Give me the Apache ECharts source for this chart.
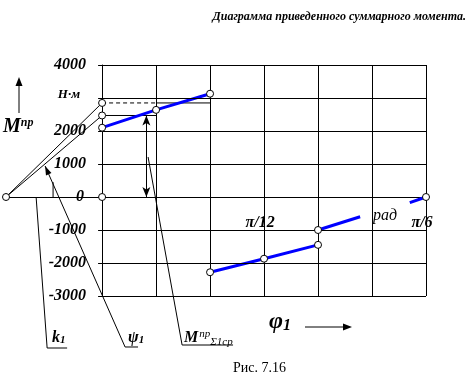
<!DOCTYPE html>
<html><head><meta charset="utf-8">
<script src="https://cdn.jsdelivr.net/npm/echarts@6.0.0/dist/echarts.min.js"></script>
<style>html,body{margin:0;padding:0;background:#fff;}#chart{width:473px;height:378px;}</style>
</head><body><div id="chart"></div>
<script>
// φ1 measured in degrees (5° = π/36 per grid cell), M in N·m
const xGridTicks = [0, 5, 10, 15, 20, 25, 30];
const xTickLabelValues = [15, 30];
const xTickLabelTexts = ['π/12', 'π/6'];
const yTicks = [-3000, -2000, -1000, 0, 1000, 2000, 3000, 4000];
const yTickLabels = ['-3000', '-2000', '-1000', '0', '1000', '2000', 'Н·м', '4000'];

const segment1 = [[0, 2100], [5, 2640], [10, 3130]];
const segment2 = [[10, -2280], [15, -1870], [20, -1450]];
const segment3a = [[20, -1000], [23.9, -600]];
const segment3b = [[28.5, -170], [30, 0]];
const knotPoints = [[0, 2100], [5, 2640], [10, 3130], [10, -2280], [15, -1870], [20, -1450], [20, -1000], [30, 0], [0, 0]];

const pivot = [-8.9, 0];
const levelUpper = 2850;
const levelLower = 2470;
const constructionPoints = [[-8.9, 0], [0, 2850], [0, 2470]];
const meanArrowX = 4.1;
const angleMark = [[-4.54, 0], [-4.54, 450]];

const leaderK = [[-6.11, 0], [-5.09, -4576], [-3.24, -4576]];
const leaderPsi = [[-5.28, 940], [2.13, -4545], [3.33, -4545]];
const leaderM = [[4.26, 1212], [7.41, -4485], [12.13, -4485]];

const F = 'Liberation Serif';
const BI = { fontFamily: F, fontStyle: 'italic', fontWeight: 'bold', color: '#000' };

const GRID = { left: 6, right: 47, top: 65, bottom: 82 };
const xMax = 30;
const plotWidth = 473 - GRID.left - GRID.right;
const yAxisOffset = -(0 - pivot[0]) * plotWidth / (xMax - pivot[0]);

const chart = echarts.init(document.getElementById('chart'), null, { renderer: 'canvas' });

function thin(data, extra) {
  return Object.assign({ type: 'line', data: data, symbol: 'none', silent: true, clip: false,
    lineStyle: { color: '#000', width: 1 }, z: 3 }, extra || {});
}
function blue(data) {
  return { type: 'line', data: data, symbol: 'none', silent: true,
    lineStyle: { color: '#0000ff', width: 3 }, z: 4 };
}

const gridMarkData = [];
xGridTicks.forEach(v => { if (v !== 0) gridMarkData.push({ xAxis: v }); });
yTicks.forEach(v => { if (v !== 0) gridMarkData.push([{ coord: [0, v] }, { coord: [xMax, v] }]); });

const option = {
  animation: false,
  backgroundColor: '#fff',
  grid: Object.assign({ containLabel: false, outerBoundsMode: 'none' }, GRID),
  xAxis: {
    type: 'value', min: pivot[0], max: xMax,
    axisLine: { show: true, onZero: true, lineStyle: { color: '#000', width: 1 } },
    axisTick: { show: false },
    splitLine: { show: false },
    axisLabel: { show: false }
  },
  yAxis: {
    type: 'value', min: -3000, max: 4000, interval: 1000, offset: yAxisOffset,
    axisLine: { show: true, onZero: false, lineStyle: { color: '#000', width: 1 } },
    axisTick: { show: true, length: 4, lineStyle: { color: '#000' } },
    splitLine: { show: false },
    axisLabel: Object.assign({
      fontSize: 16, margin: 16,
      formatter: v => {
        const i = yTicks.indexOf(v); const s = i >= 0 ? yTickLabels[i] : '';
        if (v === 3000) return '{u|' + s + '}';
        if (v === 0) return '{z|' + s + '}';
        return s;
      },
      rich: {
        u: Object.assign({ fontSize: 13, padding: [0, 6, 6, 0] }, BI),
        z: Object.assign({ fontSize: 16, padding: [0, 2, 0, 0] }, BI)
      }
    }, BI)
  },
  series: [
    { type: 'line', data: [], silent: true,
      markLine: { silent: true, symbol: ['none', 'none'], label: { show: false },
        lineStyle: { color: '#000', width: 1, type: 'solid' }, data: gridMarkData, animation: false } },
    blue(segment1), blue(segment2), blue(segment3a), blue(segment3b),
    thin([pivot, [0, levelUpper]]),
    thin([pivot, [0, levelLower]]),
    thin([[0, levelUpper], [5, levelUpper]], { lineStyle: { color: '#000', width: 1, type: [4, 3] } }),
    thin([[5, levelUpper], [10, levelUpper]]),
    thin([[0, levelLower], [5, levelLower]]),
    thin(angleMark),
    thin(leaderK), thin(leaderPsi), thin(leaderM),
    { type: 'line', data: [], silent: true,
      markLine: { silent: true, symbol: ['arrow', 'arrow'], symbolSize: [6, 10], label: { show: false },
        lineStyle: { color: '#000', width: 1, type: 'solid' },
        data: [[{ coord: [meanArrowX, 0] }, { coord: [meanArrowX, levelLower] }]], animation: false } },
    { type: 'scatter', data: knotPoints.concat(constructionPoints), symbol: 'circle', symbolSize: 7, silent: true, z: 6,
      itemStyle: { color: '#fff', borderColor: '#000', borderWidth: 1, opacity: 1 } }
  ]
};
chart.setOption(option);

function px(p) { return chart.convertToPixel({ xAxisIndex: 0, yAxisIndex: 0 }, p); }
function arrowHead(tip, from, len, half) {
  const dx = tip[0] - from[0], dy = tip[1] - from[1]; const L = Math.hypot(dx, dy);
  const ux = dx / L, uy = dy / L; const bx = tip[0] - ux * len, by = tip[1] - uy * len;
  return { type: 'polygon', silent: true, z: 10, shape: { points: [tip, [bx - uy * half, by + ux * half], [bx + uy * half, by - ux * half]] }, style: { fill: '#000' } };
}
function txt(x, y, text, rich, align, va) {
  return { type: 'text', x: x, y: y, silent: true, z: 10,
    style: { text: text, rich: rich, align: align || 'left', verticalAlign: va || 'middle', fill: '#000' } };
}
function st(size, extra) { return Object.assign({ fontFamily: F, fontStyle: 'italic', fontWeight: 'bold', fontSize: size, fill: '#000' }, extra || {}); }

const psiTip = px(leaderPsi[0]), psiBend = px(leaderPsi[1]);
const graphics = [
  txt(466, 17, '{t|Диаграмма приведенного суммарного момента.}', { t: st(12) }, 'right'),
  txt(233, 368, '{t|Рис. 7.16}', { t: { fontFamily: F, fontSize: 14, fill: '#000' } }),
  // y-axis arrow and name
  { type: 'line', silent: true, shape: { x1: 19, y1: 113, x2: 19, y2: 84 }, style: { stroke: '#000', lineWidth: 1 } },
  arrowHead([19, 77], [19, 113], 9, 3.5),
  txt(3, 127, '{m|M}{s|пр}', { m: st(20), s: st(12, { verticalAlign: 'top', padding: [0, 0, 8, 0] }) }),
  // x name and arrow
  txt(269, 322, '{m|φ}{s|1}', { m: st(24), s: st(16, { verticalAlign: 'bottom', padding: [6, 0, 0, 0] }) }),
  { type: 'line', silent: true, shape: { x1: 305, y1: 327, x2: 344, y2: 327 }, style: { stroke: '#000', lineWidth: 1 } },
  arrowHead([352, 327], [305, 327], 9, 3.5),
  // ψ1 arrow head
  arrowHead(psiTip, psiBend, 9, 3),
  // рад
  txt(373, 216, '{t|рад}', { t: st(16, { fontWeight: 'normal' }) }),
  // bottom labels
  txt(52, 338, '{m|k}{s|1}', { m: st(16), s: st(11, { verticalAlign: 'bottom', padding: [4, 0, 0, 0] }) }),
  txt(128, 338, '{m|ψ}{s|1}', { m: st(16), s: st(11, { verticalAlign: 'bottom', padding: [4, 0, 0, 0] }) }),
  txt(184, 338, '{m|M}{p|пр}{s|Σ1ср}', { m: st(16), p: st(11, { fontWeight: 'normal', verticalAlign: 'top', padding: [0, 0, 8, 1] }), s: st(11, { fontWeight: 'normal', verticalAlign: 'bottom', padding: [8, 0, 0, 0] }) })
];
xTickLabelValues.forEach((v, i) => {
  const p = px([v, 0]);
  graphics.push(txt(p[0] - 4, p[1] + 26, '{t|' + xTickLabelTexts[i] + '}', { t: st(16) }, 'center'));
});
chart.setOption({ graphic: graphics });
</script></body></html>
